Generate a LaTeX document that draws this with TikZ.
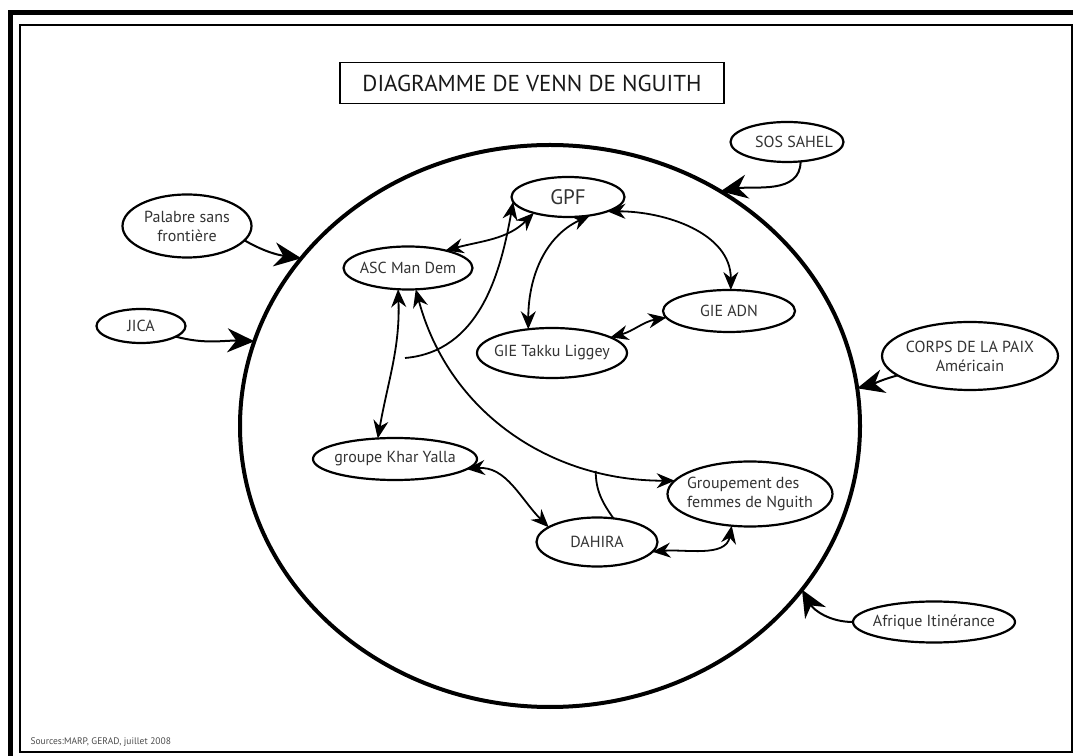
\documentclass[tikz,border=0pt]{standalone}
\usepackage{fontspec}
\setmainfont{PT Sans}
\usetikzlibrary{shapes.geometric,arrows.meta}

\begin{document}
\begin{tikzpicture}[x=1pt,y=1pt,
	acteur/.style={draw,ellipse,line width=2.2pt,inner xsep=-14pt,inner ysep=0pt,outer sep=0pt,
		text=black!80,font=\fontsize{16}{19}\selectfont,align=center},
	lien/.style={line width=1.8pt,{Stealth[length=18pt,width=15pt]}-{Stealth[length=18pt,width=15pt]}},
	fleche/.style={line width=1.8pt,-{Stealth[length=18pt,width=15pt]}},
	appui/.style={line width=2pt,-{Stealth[length=27pt,width=24pt]}}]
		\useasboundingbox (0,0) rectangle (1073,755);
		\fill[white] (0,0) rectangle (1073,755);
		\draw[line width=5pt] (10.5,-20) -- (10.5,742) -- (1090,742);
		\draw[line width=2.5pt] (20,3) rectangle (1072,730);
		\node[draw,line width=1.6pt,minimum width=384pt,minimum height=41pt,inner sep=0pt,
			text=black!90,font=\fontsize{23}{25}\selectfont] (titre) at (532,672) {DIAGRAMME DE VENN DE NGUITH};
		\node[anchor=west,text=black!70,font=\fontsize{9.5}{11}\selectfont] (sources) at (27,13) {Sources:MARP, GERAD, juillet 2008};
		\node[draw,ellipse,line width=4pt,minimum width=620pt,minimum height=562pt,outer sep=0pt] (nguith) at (550,329) {};
		\node[acteur,minimum width=113pt,minimum height=40pt] (sos) at (787,613) {\hspace*{14pt}SOS SAHEL};
		\node[acteur,minimum width=129pt,minimum height=63pt] (palabre) at (187,529) {Palabre sans\\frontière};
		\node[acteur,minimum width=89pt,minimum height=34pt] (jica) at (141,429) {JICA};
		\node[acteur,minimum width=176pt,minimum height=68pt] (corps) at (970,399) {CORPS DE LA PAIX\\Américain};
		\node[acteur,minimum width=162pt,minimum height=41pt] (afrique) at (934,133) {Afrique Itinérance};
		\node[acteur,minimum width=113pt,minimum height=40pt,font=\fontsize{21}{24}\selectfont] (gpf) at (568,558) {GPF};
		\node[acteur,minimum width=129pt,minimum height=43pt] (asc) at (408,487) {ASC Man Dem};
		\node[acteur,minimum width=150pt,minimum height=50pt] (takku) at (552,402) {GIE Takku Liggey};
		\node[acteur,minimum width=132pt,minimum height=42pt] (adn) at (729,444) {GIE ADN};
		\node[acteur,minimum width=164pt,minimum height=42pt] (khar) at (395,296) {groupe Khar Yalla};
		\node[acteur,minimum width=121pt,minimum height=49pt] (dahira) at (597,213) {DAHIRA};
		\node[acteur,minimum width=165pt,minimum height=65pt,align=left] (grp) at (750,261) {Groupement des\\femmes de Nguith};
		\coordinate (depart) at (405,397);
		\draw[appui] (sos.-55) to[out=-90,in=10] (nguith.54);
		\draw[appui] (palabre.-14) to[out=-30,in=172] (nguith.146);
		\draw[appui] (jica.-17) to[out=-15,in=178] (nguith.164.5);
		\draw[appui] (corps.195) to[out=195,in=15] (nguith.7);
		\draw[appui] (afrique.180) to[out=180,in=-60] (nguith.-33);
		\draw[lien] (asc.25) to[out=15,in=-135] (gpf.205);
		\draw[fleche] (depart) to[out=5,in=-100] (gpf.185);
		\draw[lien] (gpf.-40) to[out=205,in=90] (takku.135);
		\draw[lien] (gpf.-20) to[out=0,in=90] (adn.85);
		\draw[lien] (takku.15) to[out=15,in=190] (adn.186);
		\draw[lien] (asc.-115) to[out=-88,in=80] (khar.130);
		\draw[lien] (asc.-70) to[out=-75,in=180] coordinate[pos=0.78] (jonction) (grp.170);
		\draw[line width=1.8pt] (jonction) to[out=-90,in=125] (dahira.55);
		\draw[lien] (khar.-8) to[out=5,in=135] (dahira.163);
		\draw[lien] (dahira.-10) to[out=5,in=-100] (grp.-120);
	\end{tikzpicture}
\end{document}
